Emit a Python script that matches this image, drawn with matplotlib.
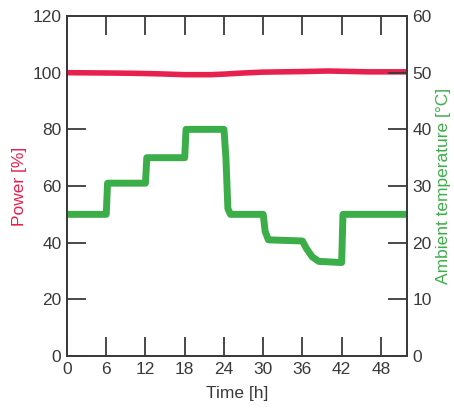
import numpy as np
import matplotlib.pyplot as plt

# --- Data ---
power_t = [0, 6, 10, 14, 18, 22, 24, 27, 30, 36, 40, 42, 46, 52]
power_v = [100.0, 99.9, 99.8, 99.6, 99.3, 99.3, 99.5, 99.9, 100.2, 100.4, 100.6, 100.5, 100.3, 100.3]

temp_t = [0, 6, 6.2, 12, 12.2, 18, 18.2, 24, 24.3, 24.6, 25, 30, 30.3, 30.8,
          36, 36.6, 37.5, 38.5, 42, 42.2, 52]
temp_v = [25, 25, 30.5, 30.5, 35, 35, 40, 40, 35, 26, 25, 25, 22, 20.5,
          20.3, 19, 17.5, 16.7, 16.5, 25, 25]

xticks = [0, 6, 12, 18, 24, 30, 36, 42, 48]
left_ticks = [0, 20, 40, 60, 80, 100, 120]
right_ticks = [0, 10, 20, 30, 40, 50, 60]

red = '#e8204e'
green = '#3cae49'
dark = '#3a3a3a'

plt.rcParams['font.family'] = ['Liberation Sans', 'DejaVu Sans']
plt.rcParams['font.size'] = 12

fig = plt.figure(figsize=(4.54, 4.11), dpi=100)
ax1 = fig.add_axes([0.1476, 0.1338, 0.749, 0.8272])
ax2 = ax1.twinx()

ax1.plot(power_t, power_v, color=red, lw=4, solid_capstyle='butt')
ax2.plot(temp_t, temp_v, color=green, lw=5, solid_joinstyle='round')

ax1.set_xlim(0, 52)
ax1.set_ylim(0, 120)
ax2.set_ylim(0, 60)
ax1.set_xticks(xticks)
ax1.set_yticks(left_ticks)
ax2.set_yticks(right_ticks)

for ax in (ax1, ax2):
    for s in ax.spines.values():
        s.set_color(dark)
        s.set_linewidth(1.3)
    ax.tick_params(direction='in', length=14, width=1.3, color=dark,
                   labelcolor=dark, labelsize=12.5, pad=4)
ax1.tick_params(axis='x', top=True)

ax1.set_xlabel('Time [h]', color=dark, fontsize=12.5, labelpad=7)
ax1.set_ylabel('Power [%]', color=red, fontsize=12.5, labelpad=4)
ax2.set_ylabel('Ambient temperature [°C]', color=green, fontsize=12.5, labelpad=3)

fig.savefig('out.png', dpi=100)
